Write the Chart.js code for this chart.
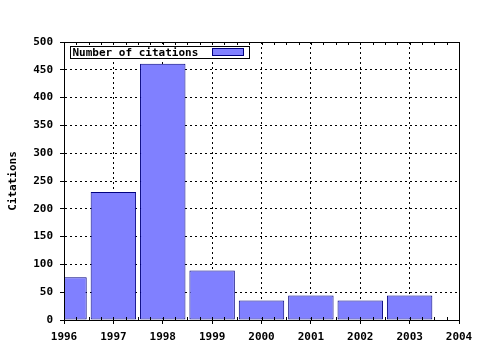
<!DOCTYPE html>
<html>
<head>
<meta charset="utf-8">
<script src="https://cdn.jsdelivr.net/npm/chart.js@4"></script>
<style>
  html, body { margin: 0; padding: 0; background: #fff; }
  #wrap { width: 480px; height: 350px; }
</style>
</head>
<body>
<div id="wrap"><canvas id="citations"></canvas></div>
<script>
// data
var years = [1996, 1997, 1998, 1999, 2000, 2001, 2002, 2003];
var citations = [77, 230, 461, 89, 35, 44, 35, 44];
var seriesName = "Number of citations";
var yTicks = [0, 50, 100, 150, 200, 250, 300, 350, 400, 450, 500];

var monoBold = { family: "'DejaVu Sans Mono', monospace", size: 11, weight: "bold" };

// frame round the plot, minor ticks on top/bottom, and the boxed legend
var framePlugin = {
  id: "frame",
  afterDraw: function (chart) {
    var c = chart.ctx, a = chart.chartArea, xs = chart.scales.x;
    c.save();
    c.strokeStyle = "#000";
    c.lineWidth = 1;
    c.setLineDash([]);
    c.strokeRect(Math.round(a.left) + 0.5, Math.round(a.top) + 0.5,
      Math.round(a.right - a.left), Math.round(a.bottom - a.top));

    // minor ticks every quarter year
    c.beginPath();
    for (var v = xs.min; v <= xs.max; v += 0.25) {
      var px = Math.round(xs.getPixelForValue(v)) + 0.5;
      c.moveTo(px, a.top); c.lineTo(px, a.top + 3);
      c.moveTo(px, a.bottom); c.lineTo(px, a.bottom - 3);
    }
    c.stroke();

    // legend box
    var ds = chart.data.datasets[0];
    var lx = Math.round(a.left) + 6.5, ly = Math.round(a.top) + 4.5;
    c.font = "bold 11px 'DejaVu Sans Mono', monospace";
    var tw = c.measureText(ds.label).width;
    var w = Math.round(tw + 53), h = 12;
    c.fillStyle = "#fff";
    c.fillRect(lx, ly, w, h);
    c.strokeRect(lx, ly, w, h);
    c.fillStyle = "#000";
    c.textBaseline = "middle";
    c.fillText(ds.label, lx + 2, ly + h / 2 + 0.5);
    c.fillStyle = ds.backgroundColor;
    c.strokeStyle = ds.borderColor;
    c.fillRect(lx + w - 37, ly + 2, 31, 7);
    c.strokeRect(lx + w - 37, ly + 2, 31, 7);
    c.restore();
  }
};

var ctx = document.getElementById("citations").getContext("2d");
var chart = new Chart(ctx, {
  type: "bar",
  data: {
    datasets: [{
      label: seriesName,
      data: years.map(function (y, i) { return { x: y, y: citations[i] }; }),
      backgroundColor: "rgb(128,128,255)",
      borderColor: "rgb(0,0,128)",
      borderWidth: 1,
      borderSkipped: false,
      barPercentage: 0.92,
      categoryPercentage: 1,
      clip: 0
    }]
  },
  options: {
    responsive: true,
    maintainAspectRatio: false,
    animation: false,
    layout: { padding: { top: 42, right: 21, left: 0, bottom: 0 } },
    plugins: { legend: { display: false }, tooltip: { enabled: false } },
    scales: {
      x: {
        type: "linear",
        min: 1996,
        max: 2004,
        offset: false,
        afterFit: function (s) { s.height = 30; },
        grid: { offset: false, color: "#000", tickLength: 4, tickBorderDash: [], tickColor: "#000" },
        border: { display: true, color: "#000", dash: [2, 3] },
        ticks: {
          stepSize: 1,
          padding: 7,
          color: "#000",
          font: monoBold,
          maxRotation: 0,
          callback: function (v) { return String(v); }
        }
      },
      y: {
        min: 0,
        max: 500,
        afterFit: function (s) { s.width = 64; },
        afterBuildTicks: function (s) { s.ticks = yTicks.map(function (v) { return { value: v }; }); },
        grid: { color: "#000", tickLength: 4, tickBorderDash: [], tickColor: "#000" },
        border: { display: true, color: "#000", dash: [2, 3] },
        title: { display: true, text: "Citations", color: "#000", font: monoBold, padding: 7 },
        ticks: { padding: 7, color: "#000", font: monoBold }
      }
    }
  },
  plugins: [framePlugin]
});
</script>
</body>
</html>
